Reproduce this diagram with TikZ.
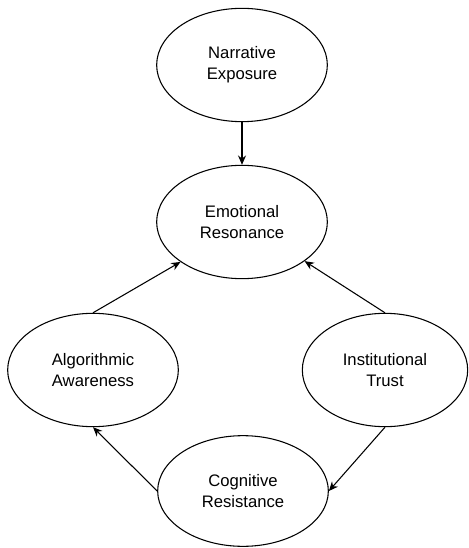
\documentclass[tikz,border=0pt]{standalone}
\usepackage{fontspec}
\setmainfont{Liberation Sans}
\usetikzlibrary{shapes.geometric,arrows.meta}

\begin{document}
\begin{tikzpicture}[x=0.75pt,y=-0.75pt,
    factor/.style={ellipse, draw, line width=0.8pt, inner sep=0pt,
        minimum width=128pt, minimum height=85pt, align=center,
        font=\fontsize{12.5}{15.5}\selectfont},
    link/.style={-{Stealth[length=7pt,width=6pt]}, line width=0.8pt}]
    \useasboundingbox (0,0) rectangle (468,548);

    \node[factor] (nexp) at (242,65) {Narrative\\Exposure};
    \node[factor] (emres) at (242,222) {Emotional\\Resonance};
    \node[factor] (algaw) at (93,370) {Algorithmic\\Awareness};
    \node[factor, minimum width=124pt] (insttr) at (385,370) {Institutional\\Trust};
    \node[factor, minimum height=83pt] (cogres) at (243,491) {Cognitive\\Resistance};

    \draw[link] (nexp) -- (emres);
    \draw[link] (algaw.north) -- (emres.213);
    \draw[link] (insttr.north) -- (emres.328);
    \draw[link] (insttr.south) -- (cogres.east);
    \draw[link] (cogres.west) -- (algaw.south);
\end{tikzpicture}
\end{document}
